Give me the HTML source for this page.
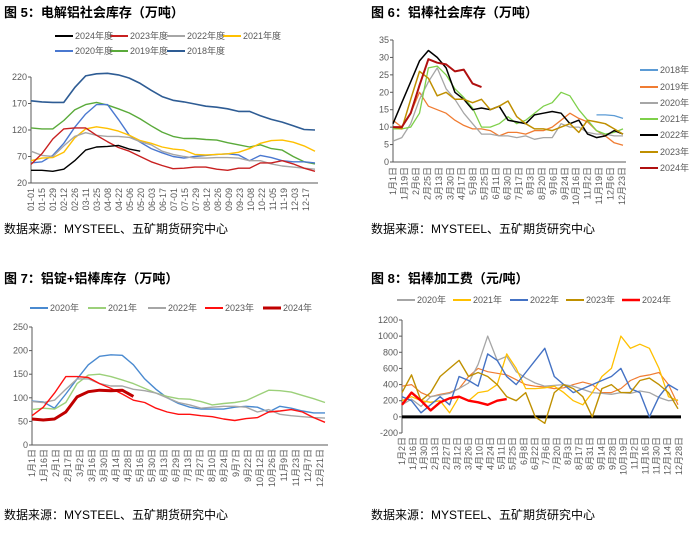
<!DOCTYPE html>
<html><head><meta charset="utf-8"><style>
body{margin:0;background:#fff;}
svg text{font-family:"Liberation Sans","Noto Sans CJK SC",sans-serif;}
</style></head><body>
<svg id="s" width="700" height="534" xmlns="http://www.w3.org/2000/svg"></svg>
<script>
// ---- Chart 5 data ----
const c5Labels=["01-01","01-15","01-29","02-12","02-26","03-11","03-25","04-08","04-22","05-06","05-20","06-03","06-17","07-01","07-15","07-29","08-12","08-26","09-09","09-23","10-08","10-22","11-05","11-19","12-03","12-17"];
const c5Ticks=[20,70,120,170,220];
const c5y2018=[175,173,172,172,200,222,226,227,224,218,208,195,183,176,173,169,165,163,160,155,155,147,140,135,128,121,120];
const c5y2019=[124,122,122,138,158,168,172,167,160,152,141,128,116,108,104,104,102,101,96,92,88,92,85,82,70,60,56];
const c5y2020=[58,60,72,95,125,150,168,168,140,110,97,85,77,70,67,70,72,74,75,73,62,72,68,62,60,60,58];
const c5y2021=[62,67,68,78,105,122,126,123,118,110,100,95,88,84,82,74,73,74,75,78,85,95,100,101,97,90,80];
const c5y2022=[80,72,70,90,108,115,110,108,108,106,98,92,80,74,70,67,67,68,68,67,62,62,56,52,50,48,46];
const c5y2023=[55,75,103,122,124,124,110,98,87,80,70,60,53,47,48,50,50,46,44,48,48,58,58,62,56,48,42];
const c5y2024=[44,44,42,46,62,82,88,89,91,84,80];
// ---- Chart 6 data ----
const c6Labels=["1月1日","1月19日","2月6日","2月25日","3月13日","3月30日","4月17日","5月8日","5月25日","6月11日","6月30日","7月17日","8月3日","8月20日","9月6日","9月24日","10月16日","11月2日","11月19日","12月6日","12月23日"];
const c6Ticks=[0,5,10,15,20,25,30,35];
const c6y2018=[null,null,null,null,null,null,null,null,null,null,null,null,null,null,null,null,null,null,null,null,null,null,null,13.5,13.5,13.3,12.5];
const c6y2019=[12,10,14,20,16,15,14,12,10.5,9.5,9.5,9,7.5,8.5,8.5,8,9,9,10,12,14,12.5,11.5,9,7.5,5.5,4.8];
const c6y2020=[6,7,11,18,23,27,21,18,14,11,8,8,7.5,7.5,7,7.5,6.5,7,7,11,10,10,8.5,8,8,7.5,7.5];
const c6y2021=[9.5,9.5,10,14,27,27.5,25,21,18.5,15.5,10,10,11,13,11,12,14,16,17,20,19,15,12,9,8,8.5,9.5];
const c6y2022=[11,17,23,29,32,30,27,20,18,15,15.5,15,16,12,11.5,11,13.5,14,14.5,14,11,12,8,7,7.5,9,8];
const c6y2023=[10,9.5,18,26,24,19,20,18,18,17,18,15,16,17.5,13,11,9.5,9.5,9,10,11,8.5,12,11.5,11,9.5,8];
const c6y2024=[10,10,14,22,29.5,28.5,28,26,26.5,22.5,21.5];
// ---- Chart 7 data ----
const c7Labels=["1月1日","1月16日","2月1日","2月17日","3月2日","3月16日","3月30日","4月14日","4月28日","5月16日","5月30日","6月13日","6月29日","7月13日","7月27日","8月10日","8月24日","9月7日","9月22日","10月12日","10月26日","11月9日","11月23日","12月7日","12月21日"];
const c7Ticks=[0,50,100,150,200,250];
const c7y2020=[93,91,78,108,140,170,188,191,190,170,140,118,100,88,80,76,76,76,80,82,80,70,82,78,72,68,68];
const c7y2021=[75,78,76,90,130,148,150,145,138,130,120,110,103,98,97,92,85,88,90,94,105,116,115,112,105,98,90];
const c7y2022=[92,90,95,118,140,140,130,125,125,118,115,110,100,90,85,78,80,82,82,80,70,75,65,62,60,58,57];
const c7y2023=[62,80,110,145,145,143,130,120,108,95,90,78,70,65,65,62,60,55,52,56,58,70,72,75,70,58,48];
const c7y2024=[55,53,55,70,102,113,116,115,116,103];
// ---- Chart 8 data ----
const c8Labels=["1月2日","1月16日","1月30日","2月13日","2月27日","3月12日","3月26日","4月10日","4月24日","5月11日","5月25日","6月8日","6月22日","7月6日","7月20日","8月3日","8月17日","8月31日","9月14日","9月28日","10月19日","11月2日","11月16日","11月30日","12月14日","12月28日"];
const c8Ticks=[-200,0,200,400,600,800,1000,1200];
const c8y2019=[380,400,300,250,280,300,350,500,600,560,540,520,460,400,380,370,350,360,400,430,400,300,300,350,450,500,520,550,400,150];
const c8y2020=[150,220,130,250,270,290,350,420,650,1000,700,750,560,480,420,380,390,400,380,340,300,290,280,300,290,320,300,240,200,210];
const c8y2021=[200,250,200,180,200,50,250,200,300,320,400,780,600,350,350,360,380,300,200,150,300,500,600,1000,850,900,850,600,250,200];
const c8y2022=[250,200,50,150,250,150,500,450,380,780,700,500,400,550,700,850,500,400,300,350,400,450,500,600,350,300,0,250,400,330];
const c8y2023=[300,520,200,300,500,600,700,500,550,500,400,250,200,300,0,-80,300,400,350,250,0,350,400,300,300,450,480,400,300,100];
const c8y2024=[150,300,200,80,180,230,250,200,180,150,200,220];

const S=document.getElementById('s');
const NS="http://www.w3.org/2000/svg";
function mk(tag,attrs,parent){const e=document.createElementNS(NS,tag);for(const k in attrs)e.setAttribute(k,attrs[k]);(parent||S).appendChild(e);return e;}
function txt(x,y,str,size,fill,anchor,weight,parent){const t=mk('text',{x:x,y:y,'font-size':size,fill:fill,'text-anchor':anchor||'start','font-weight':weight||'normal'},parent);t.textContent=str;return t;}

function chart(cfg){
  const g=mk('g',{});
  
  
  const sy=v=>cfg.y0+(v-cfg.vmin)/(cfg.vmax-cfg.vmin)*(cfg.y1-cfg.y0);
  const sx=(i,n)=>cfg.x0+i*(cfg.x1-cfg.x0)/(n-1);
  const t=txt(cfg.tx,cfg.ty,cfg.title,13,'#000','start','bold',g);
  
  
  const src=txt(cfg.tx,cfg.sy,'数据来源：MYSTEEL、五矿期货研究中心',12,'#000','start','normal',g);
  
  
  const ya=mk('line',{x1:cfg.x0,x2:cfg.x0,y1:sy(cfg.vmax),y2:sy(cfg.vmin),stroke:'#595959','stroke-width':1},g);
  
  
  cfg.ticks.forEach(v=>{
    const tl=txt(cfg.x0-4,sy(v)+3,String(v),9,'#595959','end','normal',g);
    
    
    mk('line',{x1:cfg.x0-3,x2:cfg.x0,y1:sy(v),y2:sy(v),stroke:'#595959'},g);
  });
  const xv=cfg.zeroLine?0:cfg.vmin;
  const xa=mk('line',{x1:cfg.x0,x2:cfg.x1+3,y1:sy(xv),y2:sy(xv),stroke:cfg.zeroLine?'#000':'#595959','stroke-width':cfg.zeroLine?3:1},g);
  
  
  cfg.labels.forEach((l,i)=>{
    const x=cfg.x0+i*cfg.lstep;
    const tl=txt(0,0,l,9,'#595959','end','normal',g);
    tl.setAttribute('transform','translate('+(x+3)+','+cfg.ly+') rotate(-90)');
    
    
  });
  cfg.series.forEach(s=>{
    const n=cfg.n;let d='';let pen=false;
    s.data.forEach((v,i)=>{if(v===null){pen=false;return;}d+=(pen?'L':'M')+sx(i,n).toFixed(1)+' '+sy(v).toFixed(1)+' ';pen=true;});
    const p=mk('path',{d:d,fill:'none',stroke:s.color,'stroke-width':s.w||1.3,'stroke-linejoin':'round'},g);
    
    
    if(s.lx!==undefined){
      const lg=mk('g',{},g);
      
      
      mk('line',{x1:s.lx,x2:s.lx+18,y1:s.ly,y2:s.ly,stroke:s.color,'stroke-width':s.w?Math.max(2,s.w):2},lg);
      txt(s.lx+20,s.ly+3,s.label,9,'#595959','start','normal',lg);
    }
  });
}

chart({name:'chart-5-electrolytic-aluminum-inventory',title:'图 5：电解铝社会库存（万吨）',tx:4,ty:17,sy:233,
 x0:31,x1:315,y0:183,y1:77,vmin:20,vmax:220,n:27,ticks:c5Ticks,labels:c5Labels,lstep:11,ly:188,
 series:[
  {key:'2018',data:c5y2018,color:'#2e5c94',w:1.6,label:'2018年度',lx:167,ly:51},
  {key:'2019',data:c5y2019,color:'#5aaa3a',w:1.4,label:'2019年度',lx:110,ly:51},
  {key:'2020',data:c5y2020,color:'#4a78d0',w:1.4,label:'2020年度',lx:55,ly:51},
  {key:'2021',data:c5y2021,color:'#ffc000',w:1.4,label:'2021年度',lx:223,ly:36},
  {key:'2022',data:c5y2022,color:'#a6a6a6',w:1.4,label:'2022年度',lx:167,ly:36},
  {key:'2023',data:c5y2023,color:'#c82020',w:1.4,label:'2023年度',lx:110,ly:36},
  {key:'2024',data:c5y2024,color:'#000',w:1.4,label:'2024年度',lx:55,ly:36}]});

chart({name:'chart-6-aluminum-rod-inventory',title:'图 6：铝棒社会库存（万吨）',tx:371,ty:17,sy:233,
 x0:393,x1:623,y0:162,y1:40,vmin:0,vmax:35,n:27,ticks:c6Ticks,labels:c6Labels,lstep:11.45,ly:167,
 series:[
  {key:'2018',data:c6y2018,color:'#5b9bd5',label:'2018年',lx:640,ly:70},
  {key:'2019',data:c6y2019,color:'#f07c32',label:'2019年',lx:640,ly:87},
  {key:'2020',data:c6y2020,color:'#a6a6a6',label:'2020年',lx:640,ly:103},
  {key:'2021',data:c6y2021,color:'#7ed04a',label:'2021年',lx:640,ly:119},
  {key:'2022',data:c6y2022,color:'#000',w:1.5,label:'2022年',lx:640,ly:135},
  {key:'2023',data:c6y2023,color:'#bf8f00',w:1.5,label:'2023年',lx:640,ly:152},
  {key:'2024',data:c6y2024,color:'#b01010',w:2,label:'2024年',lx:640,ly:168}]});

chart({name:'chart-7-ingot-plus-rod-inventory',title:'图 7：铝锭+铝棒库存（万吨）',tx:4,ty:283,sy:519,
 x0:32,x1:325,y0:445,y1:327,vmin:0,vmax:250,n:27,ticks:c7Ticks,labels:c7Labels,lstep:12,ly:449,
 series:[
  {key:'2020',data:c7y2020,color:'#4a8ad0',w:1.4,label:'2020年',lx:30,ly:308},
  {key:'2021',data:c7y2021,color:'#9cd07a',w:1.4,label:'2021年',lx:88,ly:308},
  {key:'2022',data:c7y2022,color:'#a6a6a6',w:1.4,label:'2022年',lx:148,ly:308},
  {key:'2023',data:c7y2023,color:'#ff1010',w:1.4,label:'2023年',lx:205,ly:308},
  {key:'2024',data:c7y2024,color:'#c00000',w:3,label:'2024年',lx:263,ly:308}]});

chart({name:'chart-8-rod-processing-fee',title:'图 8：铝棒加工费（元/吨）',tx:371,ty:283,sy:519,zeroLine:true,
 x0:402,x1:678,y0:433,y1:320,vmin:-200,vmax:1200,n:30,ticks:c8Ticks,labels:c8Labels,lstep:11.07,ly:437,
 series:[
  {key:'2019',data:c8y2019,color:'#f07c32',w:1.2},
  {key:'2020',data:c8y2020,color:'#a6a6a6',w:1.3,label:'2020年',lx:397,ly:300},
  {key:'2021',data:c8y2021,color:'#ffc000',w:1.3,label:'2021年',lx:453,ly:300},
  {key:'2022',data:c8y2022,color:'#4472c4',w:1.4,label:'2022年',lx:510,ly:300},
  {key:'2023',data:c8y2023,color:'#bf9000',w:1.4,label:'2023年',lx:566,ly:300},
  {key:'2024',data:c8y2024,color:'#ff0000',w:2.4,label:'2024年',lx:622,ly:300}]});
</script>
</body></html>
